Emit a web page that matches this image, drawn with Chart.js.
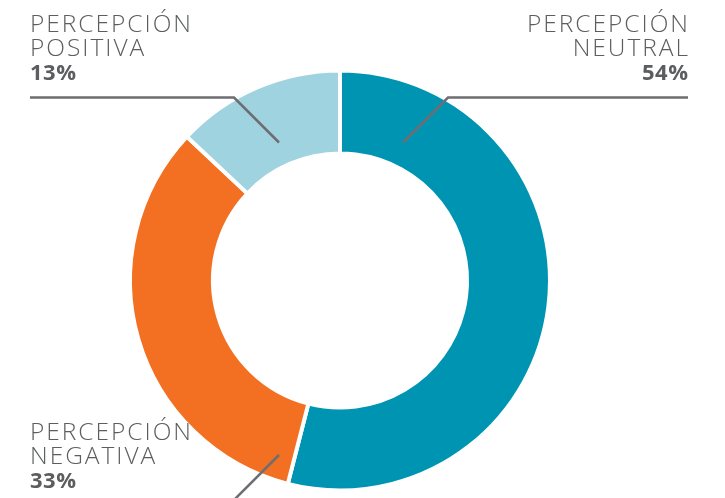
<!DOCTYPE html>
<html>
<head>
<meta charset="utf-8">
<script src="https://cdn.jsdelivr.net/npm/chart.js@4.4.0/dist/chart.umd.min.js"></script>
<style>
html,body{margin:0;padding:0;background:#fff;}
canvas{display:block;}
</style>
</head>
<body>
<canvas id="c" width="725" height="498"></canvas>
<script>
const categories = ['PERCEPCIÓN NEUTRAL', 'PERCEPCIÓN NEGATIVA', 'PERCEPCIÓN POSITIVA'];
const values = [54, 33, 13];
const colors = ['#0094b3', '#f37022', '#9ed3df'];
const labelLines = [['PERCEPCIÓN', 'NEUTRAL'], ['PERCEPCIÓN', 'NEGATIVA'], ['PERCEPCIÓN', 'POSITIVA']];
const pctLabels = values.map(v => v + '%');

const TEXT_COLOR = '#5c5d5f';
const LINE_COLOR = '#6d6e71';
const FONT_LIGHT = '300 24.5px "Open Sans", "DejaVu Sans", sans-serif';
const FONT_BOLD = '700 22px "Open Sans", "DejaVu Sans", sans-serif';
const TARGET_W = 161;

const labelPlugin = {
  id: 'calloutLabels',
  afterDraw(chart) {
    const ctx = chart.ctx;
    const arc = chart.getDatasetMeta(0).data[0];
    const cx = arc.x, cy = arc.y;
    const W = chart.width;
    ctx.save();
    ctx.strokeStyle = LINE_COLOR;
    ctx.lineWidth = 2.5;
    ctx.lineCap = 'butt';
    ctx.lineJoin = 'miter';
    const leaders = [
      [[cx + 63, cy - 138], [cx + 108, cy - 183], [W - 37, cy - 183]],
      [[cx - 61, cy + 174.5], [cx - 105, cy + 218.5]],
      [[cx - 61, cy - 138], [cx - 106, cy - 183], [30, cy - 183]]
    ];
    leaders.forEach(pts => {
      ctx.beginPath();
      ctx.moveTo(pts[0][0], pts[0][1]);
      for (let i = 1; i < pts.length; i++) ctx.lineTo(pts[i][0], pts[i][1]);
      ctx.stroke();
    });
    ctx.font = FONT_LIGHT;
    ctx.letterSpacing = '0px';
    const w0 = ctx.measureText('PERCEPCIÓN').width;
    const sp = Math.max(0, (TARGET_W - w0) / 9);
    const blocks = [
      {i: 0, x: W - 37, top: 32, align: 'right'},
      {i: 1, x: 30, top: 440, align: 'left'},
      {i: 2, x: 30, top: 32, align: 'left'}
    ];
    ctx.fillStyle = TEXT_COLOR;
    ctx.textBaseline = 'alphabetic';
    blocks.forEach(b => {
      ctx.textAlign = b.align;
      ctx.font = FONT_LIGHT;
      ctx.letterSpacing = sp + 'px';
      const xs = b.align === 'right' ? b.x + sp : b.x;
      labelLines[b.i].forEach((t, k) => {
        ctx.fillText(t, xs, b.top + k * 23.5);
      });
      ctx.font = FONT_BOLD;
      ctx.letterSpacing = '0.5px';
      ctx.fillText(pctLabels[b.i], b.align === 'right' ? b.x + 0.5 : b.x, b.top + 2 * 23.8);
    });
    ctx.restore();
  }
};

new Chart(document.getElementById('c'), {
  type: 'doughnut',
  data: {
    labels: categories,
    datasets: [{
      data: values,
      backgroundColor: colors,
      borderColor: '#ffffff',
      borderWidth: 4,
      borderJoinStyle: 'miter',
      hoverOffset: 0
    }]
  },
  options: {
    responsive: false,
    animation: false,
    radius: 210,
    cutout: '60.5%',
    layout: {padding: {left: 0, right: 45, top: 63, bottom: 0}},
    plugins: {legend: {display: false}, tooltip: {enabled: false}}
  },
  plugins: [labelPlugin]
});
</script>
</body>
</html>
